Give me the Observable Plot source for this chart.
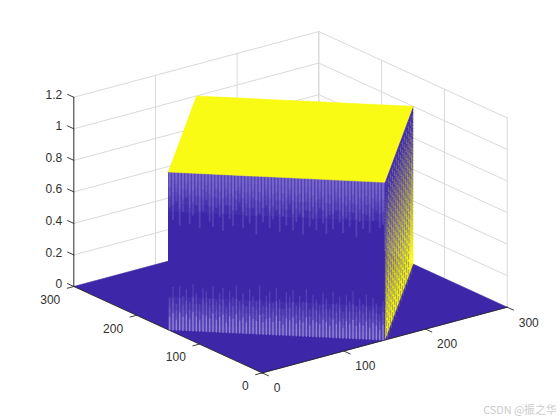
<!DOCTYPE html>
<html><head><meta charset="utf-8">
<script src="https://cdn.jsdelivr.net/npm/d3@7"></script>
<script src="https://cdn.jsdelivr.net/npm/@observablehq/plot@0.6"></script>
<style>html,body{margin:0;padding:0;background:#fff}svg{display:block}</style>
</head><body><div id="chart"></div>
<script>
// Data
const xTicks = [0, 100, 200, 300];
const yTicks = [0, 100, 200, 300];
const zTicks = [0, 0.2, 0.4, 0.6, 0.8, 1, 1.2];
const zLabels = ["0", "0.2", "0.4", "0.6", "0.8", "1", "1.2"];
const floorX = [0, 300, 300, 0];
const floorY = [0, 0, 300, 300];
const plateauX = [0, 150, 300, 150];
const plateauY = [150, 0, 150, 300];
const plateauZ = 1;
const topStreaks = [.20,.27,.16,.30,.22,.14,.29,.24,.18,.31,.21,.15,.27,.30,.19,.24,.32,.17,.25,.29,.20,.15,.30,.23,.27,.18,.33,.21,.26,.16,.29,.24,.19,.31,.22,.27,.15,.30,.25,.20,.32,.18,.27,.23,.29,.16,.25,.31,.20,.28,.17,.24,.30,.21,.26,.18,.32,.23,.27,.19,.29,.22,.16,.26,.24];
const bottomStreaks = [.22,.30,.18,.31,.24,.29,.20,.33,.26,.19,.30,.28,.23,.32,.21,.27,.31,.17,.29,.25,.33,.22,.28,.19,.31,.26,.23,.34,.20,.27,.30,.22,.33,.25,.18,.30,.27,.32,.21,.28,.24,.33,.19,.29,.26,.22,.31,.27,.20,.32,.24,.29,.18,.30,.26,.33,.22,.28,.24,.31,.20,.29,.25,.17,.27];
const hatchAlong = [.04,.11,.18,.25,.32,.39,.46,.53,.60,.67,.74,.81,.88,.95];
const hazeDepths = [.05, .10, .15, .20, .25];

// View: orthographic projection
const view = {x0: 261.7, y0: 372.4, xx: 0.8167, xy: -0.219, yx: -0.628, yy: -0.288, zy: -157.7};
const px = d => view.x0 + view.xx * d.x + view.yx * d.y;
const py = d => view.y0 + view.xy * d.x + view.yy * d.y + view.zy * d.z;

const blue = "#3d27a8", yellow = "#f9fb15", gridC = "#d9d9d9", axisC = "#262626", lav = "#8675d2";
const font = "'Liberation Sans', Arial, sans-serif";

// grid on the two back walls
const gridSegs = [];
zTicks.forEach(z => {
  gridSegs.push([{x:0,y:300,z},{x:300,y:300,z}]);
  gridSegs.push([{x:300,y:300,z},{x:300,y:0,z}]);
});
xTicks.forEach(x => gridSegs.push([{x,y:300,z:0},{x,y:300,z:1.2}]));
yTicks.forEach(y => gridSegs.push([{x:300,y,z:0},{x:300,y,z:1.2}]));
const gridPts = gridSegs.flatMap((s,i) => s.map(p => ({...p, id:i})));

const floorPoly = floorX.map((x,i) => ({x, y:floorY[i], z:0}));
const topPoly = plateauX.map((x,i) => ({x, y:plateauY[i], z:plateauZ}));
const wallQuad = (a, b, z1, z2, id, extra={}) => [
  {...a, z:z1, id, ...extra}, {...b, z:z1, id, ...extra}, {...b, z:z2, id, ...extra}, {...a, z:z2, id, ...extra}];
const A = {x:plateauX[0], y:plateauY[0]}, B = {x:plateauX[1], y:plateauY[1]}, C = {x:plateauX[2], y:plateauY[2]};
const frontWall = wallQuad(A, B, 0, plateauZ, 0);
const haze = hazeDepths.flatMap((d,i) => [
  ...wallQuad(A,B,plateauZ-d,plateauZ,2*i),
  ...wallQuad(A,B,0,d*.85,2*i+1)]);

// colour bands on the right wall
const bandStep = 0.02;
const bands = d3.range(0, plateauZ, bandStep).flatMap((z,i) =>
  wallQuad(B, C, z, Math.min(plateauZ, z + bandStep), i, {v: z + bandStep/2}));

const along = (i, n) => ({x: A.x + (B.x-A.x)*(i+.5)/n, y: A.y + (B.y-A.y)*(i+.5)/n});
const streakSeg = (arr, isTop, scale) => arr.flatMap((len,i) => {
  const p = along(i, arr.length);
  return isTop
    ? [{...p, z:plateauZ, id:i},{...p, z:plateauZ-len*scale, id:i}]
    : [{...p, z:0, id:i},{...p, z:len*scale, id:i}];
});
const hatch = hatchAlong.flatMap((t,i) => {
  const a = {x:B.x+(C.x-B.x)*t, y:B.y+(C.y-B.y)*t};
  const b = {x:B.x+(C.x-B.x)*Math.max(0,t-.12), y:B.y+(C.y-B.y)*Math.max(0,t-.12)};
  return [{...a, z:plateauZ, id:i},{...b, z:0, id:i}];
});

const line = (data, o) => Plot.line(data, {x:px, y:py, z:"id", curve:"linear", ...o});
const tickSeg = (pts) => pts.flatMap((p,i)=>[{...p[0],id:i},{...p[1],id:i}]);
const axisPts = tickSeg([
  [{x:0,y:300,z:0},{x:0,y:300,z:1.2}],
  [{x:0,y:300,z:0},{x:0,y:0,z:0}],
  [{x:0,y:0,z:0},{x:300,y:0,z:0}],
  ...zTicks.map(z=>[{x:0,y:300,z},{x:0,y:310,z}]),
  ...yTicks.map(y=>[{x:0,y,z:0},{x:-8,y,z:0}]),
  ...xTicks.map(x=>[{x,y:0,z:0},{x,y:-10,z:0}])
]);

const chart = Plot.plot({
  width:560, height:420, margin:0,
  style:{background:"#fff"},
  x:{domain:[0,560], range:[0,560], axis:null},
  y:{domain:[0,420], range:[0,420], axis:null},
  color:{type:"linear", domain:[0.08,0.92], range:[yellow,blue], interpolate:"rgb", clamp:true, legend:false},
  marks:[
    line(gridPts, {stroke:gridC, strokeWidth:1}),
    Plot.line(floorPoly, {x:px, y:py, fill:blue, stroke:blue, strokeWidth:0.5}),
    line(axisPts, {stroke:axisC, strokeWidth:0.9}),
    // right wall
    line(bands, {fill:"v", stroke:"v", strokeWidth:0.4}),
    line(hatch, {stroke:blue, strokeWidth:1, strokeOpacity:.38, strokeDasharray:"5 3"}),
    line(hatch.map(d=>({...d,x:d.x+2,y:d.y-2})), {stroke:yellow, strokeWidth:.8, strokeOpacity:.3, strokeDasharray:"4 4"}),
    // front wall
    Plot.line(frontWall, {x:px, y:py, fill:blue, stroke:blue, strokeWidth:0.5}),
    line(haze, {fill:lav, fillOpacity:.09}),
    line(streakSeg(topStreaks,true,1.1), {stroke:lav, strokeWidth:1.8, strokeOpacity:.32}),
    line(streakSeg(topStreaks,true,.75), {stroke:lav, strokeWidth:1.8, strokeOpacity:.32}),
    line(streakSeg(topStreaks,true,.45), {stroke:lav, strokeWidth:1.8, strokeOpacity:.4}),
    line(streakSeg(bottomStreaks,false,.9), {stroke:lav, strokeWidth:1.2, strokeOpacity:.35}),
    line(streakSeg(bottomStreaks,false,.65), {stroke:lav, strokeWidth:1.2, strokeOpacity:.4}),
    line(streakSeg(bottomStreaks,false,.35), {stroke:"#b0a4e4", strokeWidth:1.2, strokeOpacity:.55}),
    // plateau top
    Plot.line(topPoly, {x:px, y:py, fill:yellow, stroke:yellow, strokeWidth:0.5}),
    // tick labels
    Plot.text(zTicks, {x:z=>px({x:0,y:300,z}), y:z=>py({x:0,y:300,z}), text:(d,i)=>zLabels[i], textAnchor:"end", dx:-11.5, dy:-2.3, fontSize:12, fontFamily:font, fill:"#303030"}),
    Plot.text(yTicks, {x:y=>px({x:0,y,z:0}), y:y=>py({x:0,y,z:0}), text:String, textAnchor:"end", dx:-13.5, dy:13.5, fontSize:12, fontFamily:font, fill:"#303030"}),
    Plot.text(xTicks, {x:x=>px({x,y:0,z:0}), y:x=>py({x,y:0,z:0}), text:String, textAnchor:"start", dx:11.5, dy:15.5, fontSize:12, fontFamily:font, fill:"#303030"}),
    Plot.text(["CSDN @振之华"], {frameAnchor:"bottom-right", dx:-4, dy:-7, fontSize:10.8, fontFamily:"'Noto Sans CJK SC', 'Liberation Sans', sans-serif", fill:"#cbcbcb"})
  ]
});
document.getElementById("chart").appendChild(chart);
</script></body></html>
